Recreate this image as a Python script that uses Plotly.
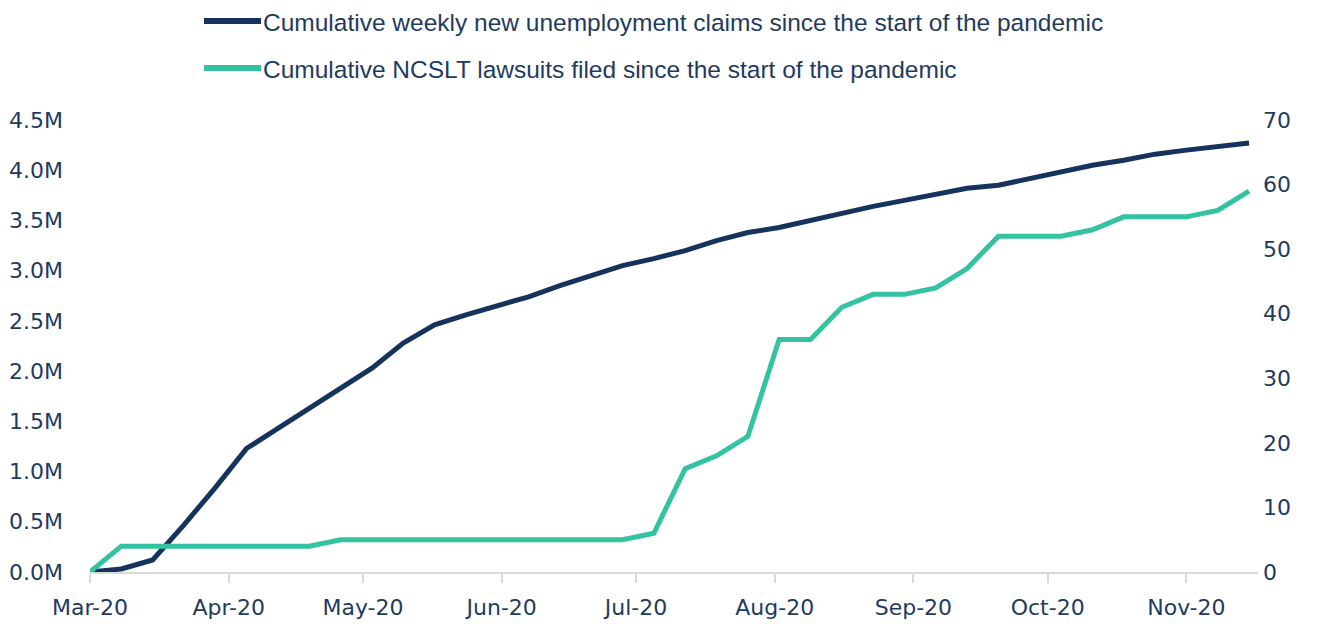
import plotly.graph_objects as go

# ---- data ----
week_dates = [
    "2020-03-01", "2020-03-08", "2020-03-15", "2020-03-22", "2020-03-29",
    "2020-04-05", "2020-04-12", "2020-04-19", "2020-04-26", "2020-05-03",
    "2020-05-10", "2020-05-17", "2020-05-24", "2020-05-31", "2020-06-07",
    "2020-06-14", "2020-06-21", "2020-06-28", "2020-07-05", "2020-07-12",
    "2020-07-19", "2020-07-26", "2020-08-02", "2020-08-09", "2020-08-16",
    "2020-08-23", "2020-08-30", "2020-09-06", "2020-09-13", "2020-09-20",
    "2020-09-27", "2020-10-04", "2020-10-11", "2020-10-18", "2020-10-25",
    "2020-11-01", "2020-11-08", "2020-11-15",
]
claims_millions = [
    0.00, 0.03, 0.12, 0.47, 0.84, 1.23, 1.43, 1.63, 1.83, 2.03,
    2.28, 2.46, 2.56, 2.65, 2.74, 2.85, 2.95, 3.05, 3.12, 3.20,
    3.30, 3.38, 3.43, 3.50, 3.58, 3.64, 3.70, 3.76, 3.82, 3.85,
    3.92, 3.99, 4.05, 4.10, 4.16, 4.20, 4.23, 4.27,
]
lawsuits = [
    0, 4, 4, 4, 4, 4, 4, 4, 5, 5,
    5, 5, 5, 5, 5, 5, 5, 5, 6, 16,
    18, 21, 36, 36, 41, 43, 43, 44, 47, 52,
    52, 52, 53, 55, 55, 55, 56, 59,
]
claims_name = "Cumulative weekly new unemployment claims since the start of the pandemic"
lawsuits_name = "Cumulative NCSLT lawsuits filed since the start of the pandemic"
left_ticks = [0, 0.5, 1.0, 1.5, 2.0, 2.5, 3.0, 3.5, 4.0, 4.5]
left_ticktext = ["0.0M", "0.5M", "1.0M", "1.5M", "2.0M", "2.5M", "3.0M", "3.5M", "4.0M", "4.5M"]
right_ticks = [0, 10, 20, 30, 40, 50, 60, 70]

NAVY = "#15335c"
GREEN = "#33c3a1"
TEXT = "#1f3b60"
AXIS_FONT = dict(family="DejaVu Sans", size=22, color=TEXT)

fig = go.Figure()
fig.add_trace(go.Scatter(
    x=week_dates, y=claims_millions, mode="lines", name=claims_name,
    line=dict(color=NAVY, width=5), yaxis="y", showlegend=False,
))
fig.add_trace(go.Scatter(
    x=week_dates, y=lawsuits, mode="lines", name=lawsuits_name,
    line=dict(color=GREEN, width=5), yaxis="y2", showlegend=False,
))

# the page has an 8px body margin; the figure is placed at (8, 8)
FIG_W, FIG_H = 1307, 616
OFF = 8
L, R, T, B = 82, 57, 112, 52
W, H = FIG_W - L - R, FIG_H - T - B
def px(x):
    return (x - OFF - L) / W
def py(y):
    return (OFF + T + H - y) / H

# custom legend (lines + text)
for yy, col, name in [(22, NAVY, claims_name), (69, GREEN, lawsuits_name)]:
    fig.add_shape(type="line", xref="paper", yref="paper",
                  x0=px(204), x1=px(261), y0=py(yy - 1), y1=py(yy - 1),
                  line=dict(color=col, width=6))
    fig.add_annotation(xref="paper", yref="paper", x=px(262), y=py(yy),
                       text=name, showarrow=False, xanchor="left", yanchor="middle",
                       borderpad=0,
                       font=dict(family="Liberation Sans", size=24.5, color=TEXT))

fig.update_layout(
    width=FIG_W, height=FIG_H,
    margin=dict(l=L, r=R, t=T, b=B, autoexpand=False),
    paper_bgcolor="white", plot_bgcolor="white",
    xaxis=dict(
        type="date", range=["2020-03-01", "2020-11-17"],
        dtick="M1", tick0="2020-03-01", tickformat="%b-%y",
        showgrid=False, showline=True, linecolor="#d9d9d9", linewidth=1.5,
        ticks="outside", ticklen=9, tickcolor="#d9d9d9", tickwidth=1.5,
        tickfont=AXIS_FONT, ticklabelstandoff=6, zeroline=False, automargin=False,
    ),
    yaxis=dict(
        range=[0, 4.5], tickvals=left_ticks, ticktext=left_ticktext,
        showgrid=False, zeroline=False, showline=False,
        tickfont=AXIS_FONT, ticklabelstandoff=26, automargin=False,
    ),
    yaxis2=dict(
        range=[0, 70], tickvals=right_ticks, overlaying="y", side="right",
        showgrid=False, zeroline=False, showline=False,
        tickfont=AXIS_FONT, ticklabelstandoff=4, automargin=False,
    ),
)

fig.write_html("out.html")
